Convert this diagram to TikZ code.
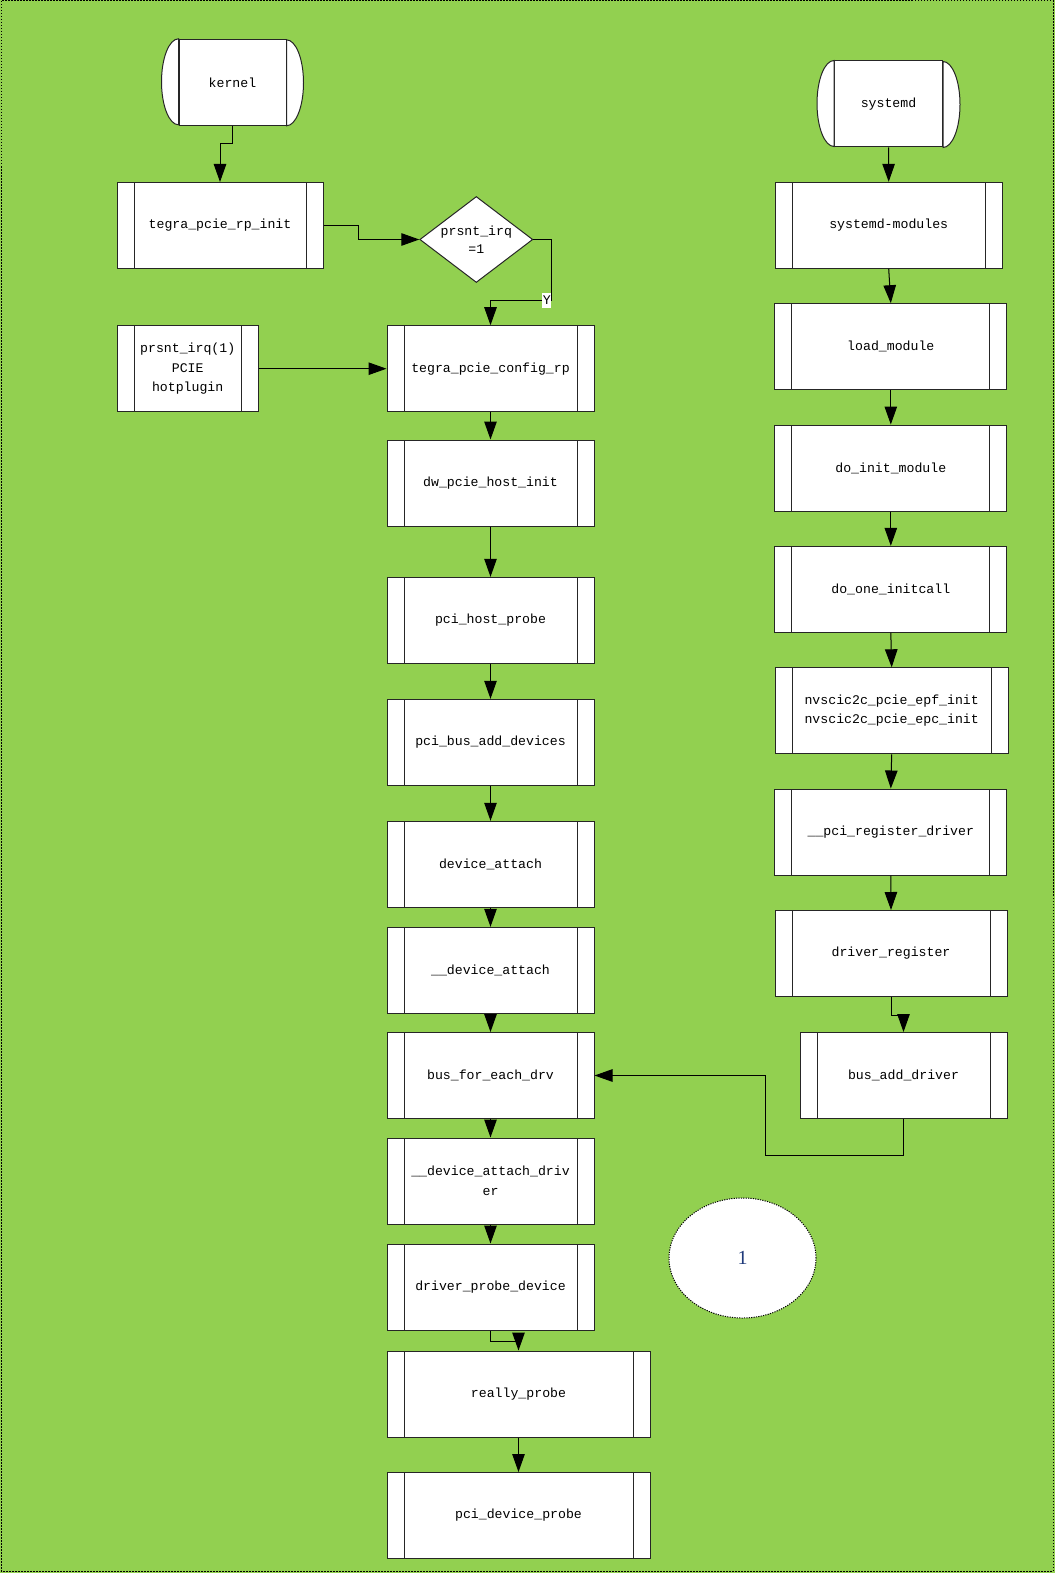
\documentclass[tikz,border=0pt]{standalone}
\usepackage{fontspec}
\usetikzlibrary{shapes.geometric,arrows.meta}
\newfontfamily\flowFont{Liberation Mono}
\newfontfamily\markFont{Liberation Serif}
\definecolor{pageGreen}{HTML}{92D050}
\definecolor{markBlue}{HTML}{1F3A7A}
\newcommand\boxColor{black!85}
\newcommand\boxLineWidth{1pt}
\newcommand\barOffset{17pt}
\newcommand\arrowColor{black}
\newcommand\arrowLineWidth{1pt}

\begin{document}
\begin{tikzpicture}[x=1pt,y=-1pt,
    procbox/.style={draw=\boxColor, line width=\boxLineWidth, fill=white, shape=rectangle, minimum height=86pt, inner sep=0pt, align=center, anchor=center,
        font=\flowFont\fontsize{13.2}{19.5}\selectfont,
        path picture={
            \draw[draw=\boxColor, line width=\boxLineWidth]
                ([xshift=\barOffset]path picture bounding box.north west) -- ([xshift=\barOffset]path picture bounding box.south west)
                ([xshift=-\barOffset]path picture bounding box.north east) -- ([xshift=-\barOffset]path picture bounding box.south east);
        }},
    termbox/.style={draw=\boxColor, line width=\boxLineWidth, fill=white, shape=rectangle, minimum height=86pt, inner sep=0pt, anchor=center,
        font=\flowFont\fontsize{13.2}{19.5}\selectfont},
    termcap/.style={draw=\boxColor, line width=\boxLineWidth, fill=white},
    decision/.style={draw=\boxColor, line width=\boxLineWidth, fill=white, shape=diamond, aspect=1.3, minimum width=113pt, minimum height=86pt, inner sep=0pt, align=center,
        font=\flowFont\fontsize{13.2}{18}\selectfont},
    ylabel/.style={fill=white, inner xsep=0.5pt, inner ysep=3.5pt, font=\flowFont\fontsize{13.2}{15}\selectfont},
    markoval/.style={draw=black, line width=1pt, dash pattern=on 1.2pt off 1.2pt, fill=white, shape=ellipse, minimum width=147pt, minimum height=120pt,
        font=\markFont\fontsize{20}{20}\selectfont, text=markBlue},
    flow/.style={draw=\arrowColor, line width=\arrowLineWidth, -{Triangle[width=12.5pt,length=18pt]}}
]

    \useasboundingbox (0,0) rectangle (1055,1573);
    \fill[pageGreen] (0,0) rectangle (1055,1573);
    \draw[black, line width=1pt, dash pattern=on 1.5pt off 1.5pt] (1,1) rectangle (1053,1571);

%left column
    \node (kernel) [termbox, minimum width=107pt] at (232.5,82.3) {kernel};
    \draw[termcap] (kernel.north west) arc[start angle=270, end angle=90, x radius=17, y radius=43] -- cycle;
    \draw[termcap] (kernel.south east) arc[start angle=90, end angle=-90, x radius=17, y radius=43] -- cycle;

    \node (rpinit) [procbox, minimum width=206pt] at (220,225.5) {tegra\_pcie\_rp\_init};
    \node (prsnt) [decision] at (476.3,239.5) {prsnt\_irq\\=1};
    \node (hotplug) [procbox, minimum width=141pt] at (187.7,368.7) {prsnt\_irq(1)\\PCIE\\hotplugin};

    \node (config) [procbox, minimum width=207pt] at (490.5,368.7) {tegra\_pcie\_config\_rp};
    \node (dwinit) [procbox, minimum width=207pt] at (490.5,483) {dw\_pcie\_host\_init};
    \node (hostprobe) [procbox, minimum width=207pt] at (490.5,620.3) {pci\_host\_probe};
    \node (busdevs) [procbox, minimum width=207pt] at (490.5,742.3) {pci\_bus\_add\_devices};
    \node (devattach) [procbox, minimum width=207pt] at (490.5,864.3) {device\_attach};
    \node (udevattach) [procbox, minimum width=207pt] at (490.5,970.3) {\_\_device\_attach};
    \node (foreachdrv) [procbox, minimum width=207pt] at (490.5,1075.5) {bus\_for\_each\_drv};
    \node (attachdrv) [procbox, minimum width=207pt] at (490.5,1181) {\_\_device\_attach\_driv\\er};
    \node (probedev) [procbox, minimum width=207pt] at (490.5,1287) {driver\_probe\_device};
    \node (really) [procbox, minimum width=263pt] at (518.5,1394) {really\_probe};
    \node (pciprobe) [procbox, minimum width=263pt] at (518.5,1515.5) {pci\_device\_probe};

%right column
    \node (systemd) [termbox, minimum width=108pt] at (888.5,104) {systemd};
    \draw[termcap] (systemd.north west) arc[start angle=270, end angle=90, x radius=17, y radius=43] -- cycle;
    \draw[termcap] (systemd.south east) arc[start angle=90, end angle=-90, x radius=17, y radius=43] -- cycle;

    \node (sysmods) [procbox, minimum width=227pt] at (888.7,225.3) {systemd-modules};
    \node (loadmod) [procbox, minimum width=232pt] at (890.8,346.7) {load\_module};
    \node (initmod) [procbox, minimum width=232pt] at (890.8,468) {do\_init\_module};
    \node (initcall) [procbox, minimum width=232pt] at (890.8,589.3) {do\_one\_initcall};
    \node (epfinit) [procbox, minimum width=233pt] at (891.7,710.8) {nvscic2c\_pcie\_epf\_init\\nvscic2c\_pcie\_epc\_init};
    \node (pcireg) [procbox, minimum width=232pt] at (890.8,832) {\_\_pci\_register\_driver};
    \node (drvreg) [procbox, minimum width=232pt] at (891,953.5) {driver\_register};
    \node (busadddrv) [procbox, minimum width=207pt] at (903.5,1075.5) {bus\_add\_driver};

    \node (one) [markoval] at (742.5,1258) {1};

%links
    \foreach \from/\to in {config/dwinit, dwinit/hostprobe, hostprobe/busdevs, busdevs/devattach, devattach/udevattach,
        udevattach/foreachdrv, foreachdrv/attachdrv, attachdrv/probedev, really/pciprobe,
        systemd/sysmods, sysmods/loadmod, loadmod/initmod, initmod/initcall, initcall/epfinit, epfinit/pcireg, pcireg/drvreg}
        \draw[flow] (\from.south) -- (\to.north);

    \draw[flow] (kernel.south) -- ++(0,18) -| (rpinit.north);
    \draw[flow] (rpinit.east) -- ++(35,0) |- (prsnt.west);
    \draw[flow] (prsnt.east) -- ++(18.5,0) -- ++(0,61) node[ylabel, anchor=east] {Y} -| (config.north);
    \draw[flow] (hotplug.east) -- (config.west);
    \draw[flow] (probedev.south) -- ++(0,11) -| (really.north);
    \draw[flow] (drvreg.south) -- ++(0,18.5) -| (busadddrv.north);
    \draw[flow] (busadddrv.south) -- ++(0,36) -- ++(-138.5,0) |- (foreachdrv.east);

\end{tikzpicture}
\end{document}
